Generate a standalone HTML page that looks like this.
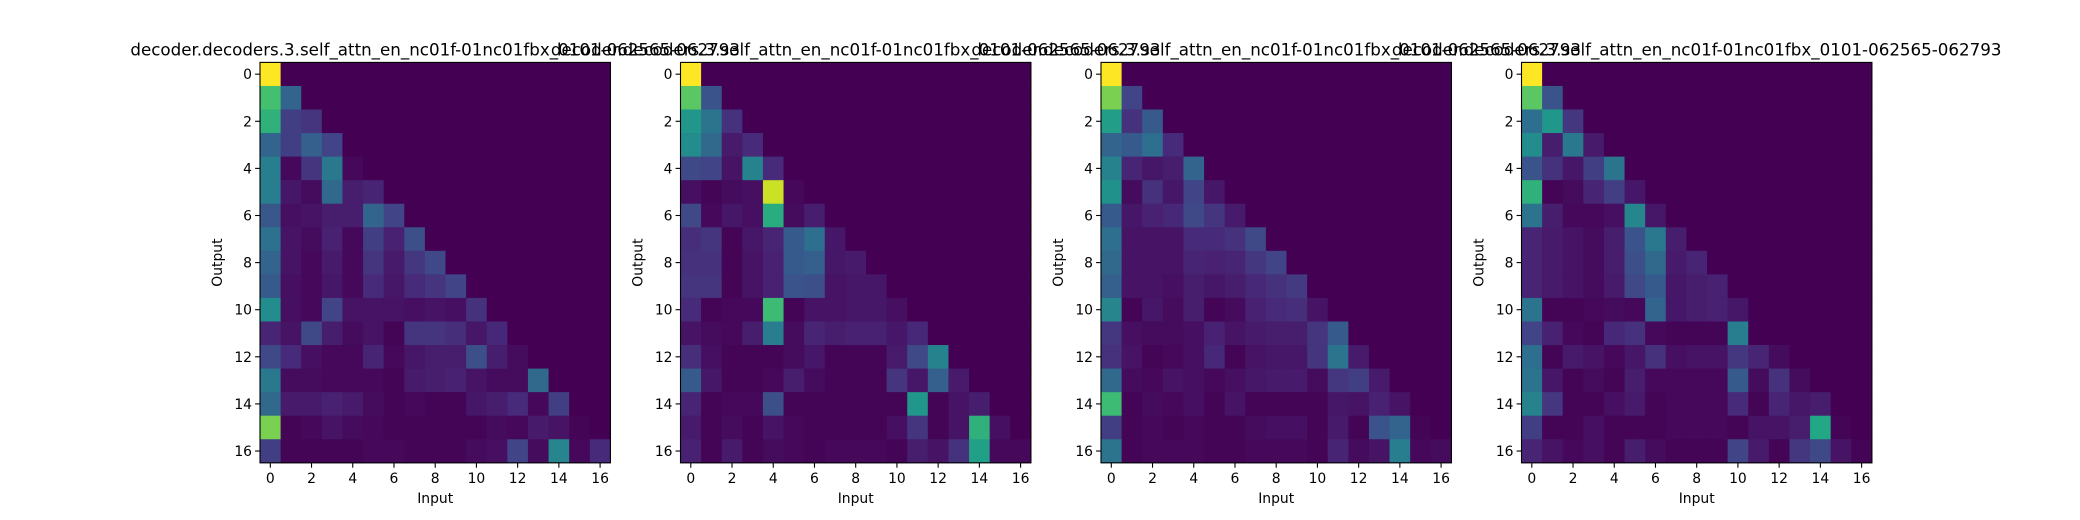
<!DOCTYPE html>
<html><head><meta charset="utf-8">
<style>
html,body{margin:0;padding:0;background:#fff;}
svg{display:block;font-family:"DejaVu Sans","Liberation Sans",sans-serif;}
</style></head>
<body>
<svg id="chart" width="2080" height="520" viewBox="0 0 2080 520" xmlns="http://www.w3.org/2000/svg"></svg>
<script>
const panelTitles = [
 "decoder.decoders.3.self_attn_en_nc01f-01nc01fbx_0101-062565-062793",
 "decoder.decoders.3.self_attn_en_nc01f-01nc01fbx_0101-062565-062793",
 "decoder.decoders.3.self_attn_en_nc01f-01nc01fbx_0101-062565-062793",
 "decoder.decoders.3.self_attn_en_nc01f-01nc01fbx_0101-062565-062793"
];
const tickLabels = [0,2,4,6,8,10,12,14,16];
const panel1 = [
[1],
[0.70,0.32],
[0.64,0.18,0.15],
[0.32,0.18,0.30,0.20],
[0.42,0.02,0.15,0.40,0.02],
[0.42,0.06,0.03,0.34,0.08,0.10],
[0.27,0.04,0.05,0.08,0.08,0.32,0.20],
[0.37,0.05,0.03,0.09,0.02,0.18,0.09,0.24],
[0.32,0.05,0.02,0.07,0.02,0.15,0.07,0.16,0.22],
[0.28,0.04,0.02,0.06,0.02,0.12,0.06,0.12,0.15,0.20],
[0.48,0.04,0.02,0.20,0.05,0.05,0.05,0.04,0.05,0.04,0.14],
[0.10,0.05,0.22,0.08,0.03,0.05,0.01,0.15,0.15,0.13,0.06,0.11],
[0.22,0.12,0.04,0.02,0.02,0.10,0.02,0.06,0.08,0.08,0.24,0.08,0.03],
[0.40,0.03,0.03,0.02,0.02,0.02,0.01,0.07,0.08,0.09,0.05,0.03,0.03,0.34],
[0.34,0.07,0.07,0.09,0.07,0.03,0.01,0.02,0.01,0.01,0.06,0.08,0.12,0.02,0.18],
[0.80,0.01,0.02,0.05,0.03,0.02,0.01,0.01,0.01,0.01,0.01,0.03,0.02,0.07,0.05,0.01],
[0.18,0.01,0.01,0.01,0.01,0.02,0.02,0.01,0.01,0.01,0.03,0.04,0.20,0.03,0.45,0.02,0.12]
];
const panel2 = [
[1],
[0.74,0.26],
[0.52,0.38,0.14],
[0.48,0.34,0.07,0.12],
[0.22,0.20,0.05,0.44,0.12],
[0.04,0.01,0.03,0.04,0.92,0.02],
[0.22,0.02,0.06,0.04,0.62,0.03,0.08],
[0.13,0.15,0.01,0.06,0.10,0.28,0.36,0.06],
[0.14,0.14,0.01,0.05,0.09,0.28,0.30,0.06,0.07],
[0.15,0.15,0.01,0.05,0.09,0.26,0.24,0.05,0.06,0.06],
[0.12,0.01,0.02,0.02,0.68,0.01,0.05,0.05,0.06,0.06,0.04],
[0.05,0.03,0.02,0.08,0.42,0.03,0.10,0.08,0.09,0.09,0.06,0.11],
[0.13,0.04,0.01,0.01,0.01,0.03,0.06,0.01,0.01,0.01,0.07,0.22,0.44],
[0.28,0.06,0.01,0.01,0.02,0.08,0.03,0.01,0.01,0.01,0.15,0.06,0.30,0.07],
[0.10,0.01,0.02,0.02,0.24,0.01,0.01,0.01,0.01,0.01,0.01,0.52,0.01,0.05,0.08],
[0.07,0.01,0.03,0.01,0.05,0.02,0.01,0.01,0.01,0.01,0.04,0.15,0.01,0.05,0.64,0.04],
[0.09,0.01,0.07,0.01,0.03,0.02,0.01,0.02,0.02,0.02,0.01,0.08,0.05,0.14,0.56,0.02,0.02]
];
const panel3 = [
[1],
[0.80,0.20],
[0.55,0.14,0.28],
[0.32,0.28,0.36,0.12],
[0.44,0.10,0.06,0.08,0.32],
[0.50,0.03,0.14,0.06,0.20,0.06],
[0.28,0.06,0.09,0.11,0.22,0.15,0.07],
[0.36,0.05,0.05,0.05,0.12,0.12,0.14,0.22],
[0.34,0.05,0.05,0.05,0.10,0.09,0.10,0.16,0.20],
[0.30,0.05,0.05,0.04,0.08,0.06,0.08,0.11,0.14,0.17],
[0.45,0.01,0.06,0.03,0.08,0.01,0.03,0.09,0.12,0.13,0.05],
[0.16,0.04,0.03,0.03,0.04,0.09,0.05,0.07,0.08,0.08,0.15,0.28],
[0.14,0.05,0.01,0.02,0.04,0.11,0.01,0.05,0.06,0.06,0.15,0.38,0.07],
[0.34,0.03,0.02,0.05,0.04,0.02,0.04,0.06,0.07,0.07,0.03,0.16,0.18,0.07],
[0.68,0.01,0.03,0.02,0.04,0.01,0.05,0.01,0.01,0.01,0.01,0.06,0.05,0.09,0.05],
[0.18,0.01,0.02,0.01,0.02,0.01,0.01,0.03,0.04,0.04,0.01,0.07,0.01,0.26,0.32,0.01],
[0.38,0.01,0.02,0.02,0.02,0.01,0.01,0.02,0.02,0.02,0.01,0.10,0.03,0.05,0.42,0.02,0.03]
];
const panel4 = [
[1],
[0.74,0.26],
[0.36,0.52,0.16],
[0.48,0.08,0.40,0.07],
[0.26,0.14,0.06,0.18,0.38],
[0.64,0.01,0.03,0.10,0.18,0.06],
[0.38,0.08,0.02,0.02,0.04,0.46,0.06],
[0.10,0.07,0.05,0.03,0.08,0.26,0.40,0.08],
[0.10,0.07,0.05,0.03,0.08,0.24,0.34,0.07,0.10],
[0.10,0.07,0.05,0.03,0.07,0.22,0.28,0.06,0.08,0.09],
[0.38,0.01,0.01,0.02,0.03,0.02,0.32,0.06,0.08,0.09,0.06],
[0.20,0.09,0.02,0.01,0.11,0.14,0.02,0.01,0.01,0.01,0.42],
[0.36,0.01,0.07,0.05,0.02,0.06,0.14,0.04,0.05,0.05,0.16,0.10,0.03],
[0.38,0.06,0.01,0.03,0.01,0.08,0.02,0.02,0.02,0.02,0.28,0.03,0.14,0.03],
[0.44,0.16,0.01,0.01,0.04,0.07,0.01,0.02,0.02,0.02,0.12,0.01,0.10,0.06,0.08],
[0.18,0.01,0.01,0.04,0.01,0.01,0.01,0.02,0.02,0.02,0.01,0.05,0.05,0.08,0.60,0.01],
[0.10,0.05,0.02,0.04,0.01,0.08,0.03,0.01,0.01,0.01,0.20,0.07,0.01,0.16,0.22,0.05,0.01]
];
const panels = [panel1, panel2, panel3, panel4];

const NS = "http://www.w3.org/2000/svg";
const svg = document.getElementById("chart");
const VIR = ["#440154","#482475","#414487","#355f8d","#2a788e","#21918c","#22a884","#44bf70","#7ad151","#bddf26","#fde725"];
function hex(h){return [parseInt(h.slice(1,3),16),parseInt(h.slice(3,5),16),parseInt(h.slice(5,7),16)];}
function viridis(v){
  v=Math.max(0,Math.min(1,v));
  const p=v*10, i=Math.min(9,Math.floor(p)), t=p-i;
  const a=hex(VIR[i]), b=hex(VIR[i+1]);
  return "rgb("+a.map((c,k)=>Math.round(c+(b[k]-c)*t)).join(",")+")";
}
function mk(tag, attrs, parent){
  const e=document.createElementNS(NS,tag);
  for(const k in attrs) e.setAttribute(k,attrs[k]);
  (parent||svg).appendChild(e);
  return e;
}
const N=17, AX_W=350.4, AX_H=400.4, TOP=62.4, GAP=420.5, LEFT0=260;
panels.forEach((data,p)=>{
  const L=LEFT0+p*GAP;
  const cw=AX_W/N, ch=AX_H/N;
  const xScale=c=>L+c*cw;
  const yScale=r=>TOP+r*ch;
  const g=mk("g",{});
  
  
  for(let r=0;r<N;r++){
    for(let c=0;c<N;c++){
      const v=(data[r] && data[r][c]!==undefined)?data[r][c]:0;
      const rect=mk("rect",{x:xScale(c),y:yScale(r),width:cw+0.5,height:ch+0.5,fill:viridis(v)},g);
      
      
    }
  }
  const frame=mk("rect",{x:L,y:TOP,width:AX_W,height:AX_H,fill:"none",stroke:"#000","stroke-width":1.1},g);
  
  
  tickLabels.forEach(t=>{
    const x=xScale(t)+cw/2, y=TOP+AX_H;
    mk("line",{x1:x,y1:y,x2:x,y2:y+4.9,stroke:"#000","stroke-width":1.1},g);
    const tx=mk("text",{x:x,y:y+20,"font-size":13.9,"text-anchor":"middle",fill:"#000"},g);
    tx.textContent=t;
    
    
    const yy=yScale(t)+ch/2;
    mk("line",{x1:L,y1:yy,x2:L-4.9,y2:yy,stroke:"#000","stroke-width":1.1},g);
    const ty=mk("text",{x:L-8,y:yy+5,"font-size":13.9,"text-anchor":"end",fill:"#000"},g);
    ty.textContent=t;
    
    
  });
  const xl=mk("text",{x:L+AX_W/2,y:503,"font-size":13.9,"text-anchor":"middle",fill:"#000"},g);
  xl.textContent="Input";
  
  
  const yx=L-38, yc=TOP+AX_H/2;
  const yl=mk("text",{x:yx,y:yc,"font-size":13.9,"text-anchor":"middle",fill:"#000",transform:"rotate(-90 "+yx+" "+yc+")"},g);
  yl.textContent="Output";
  
  
  const ti=mk("text",{x:L+AX_W/2,y:TOP-7,"font-size":16.7,"text-anchor":"middle",fill:"#000"},g);
  ti.textContent=panelTitles[p];
  
  
});
</script>
</body></html>
